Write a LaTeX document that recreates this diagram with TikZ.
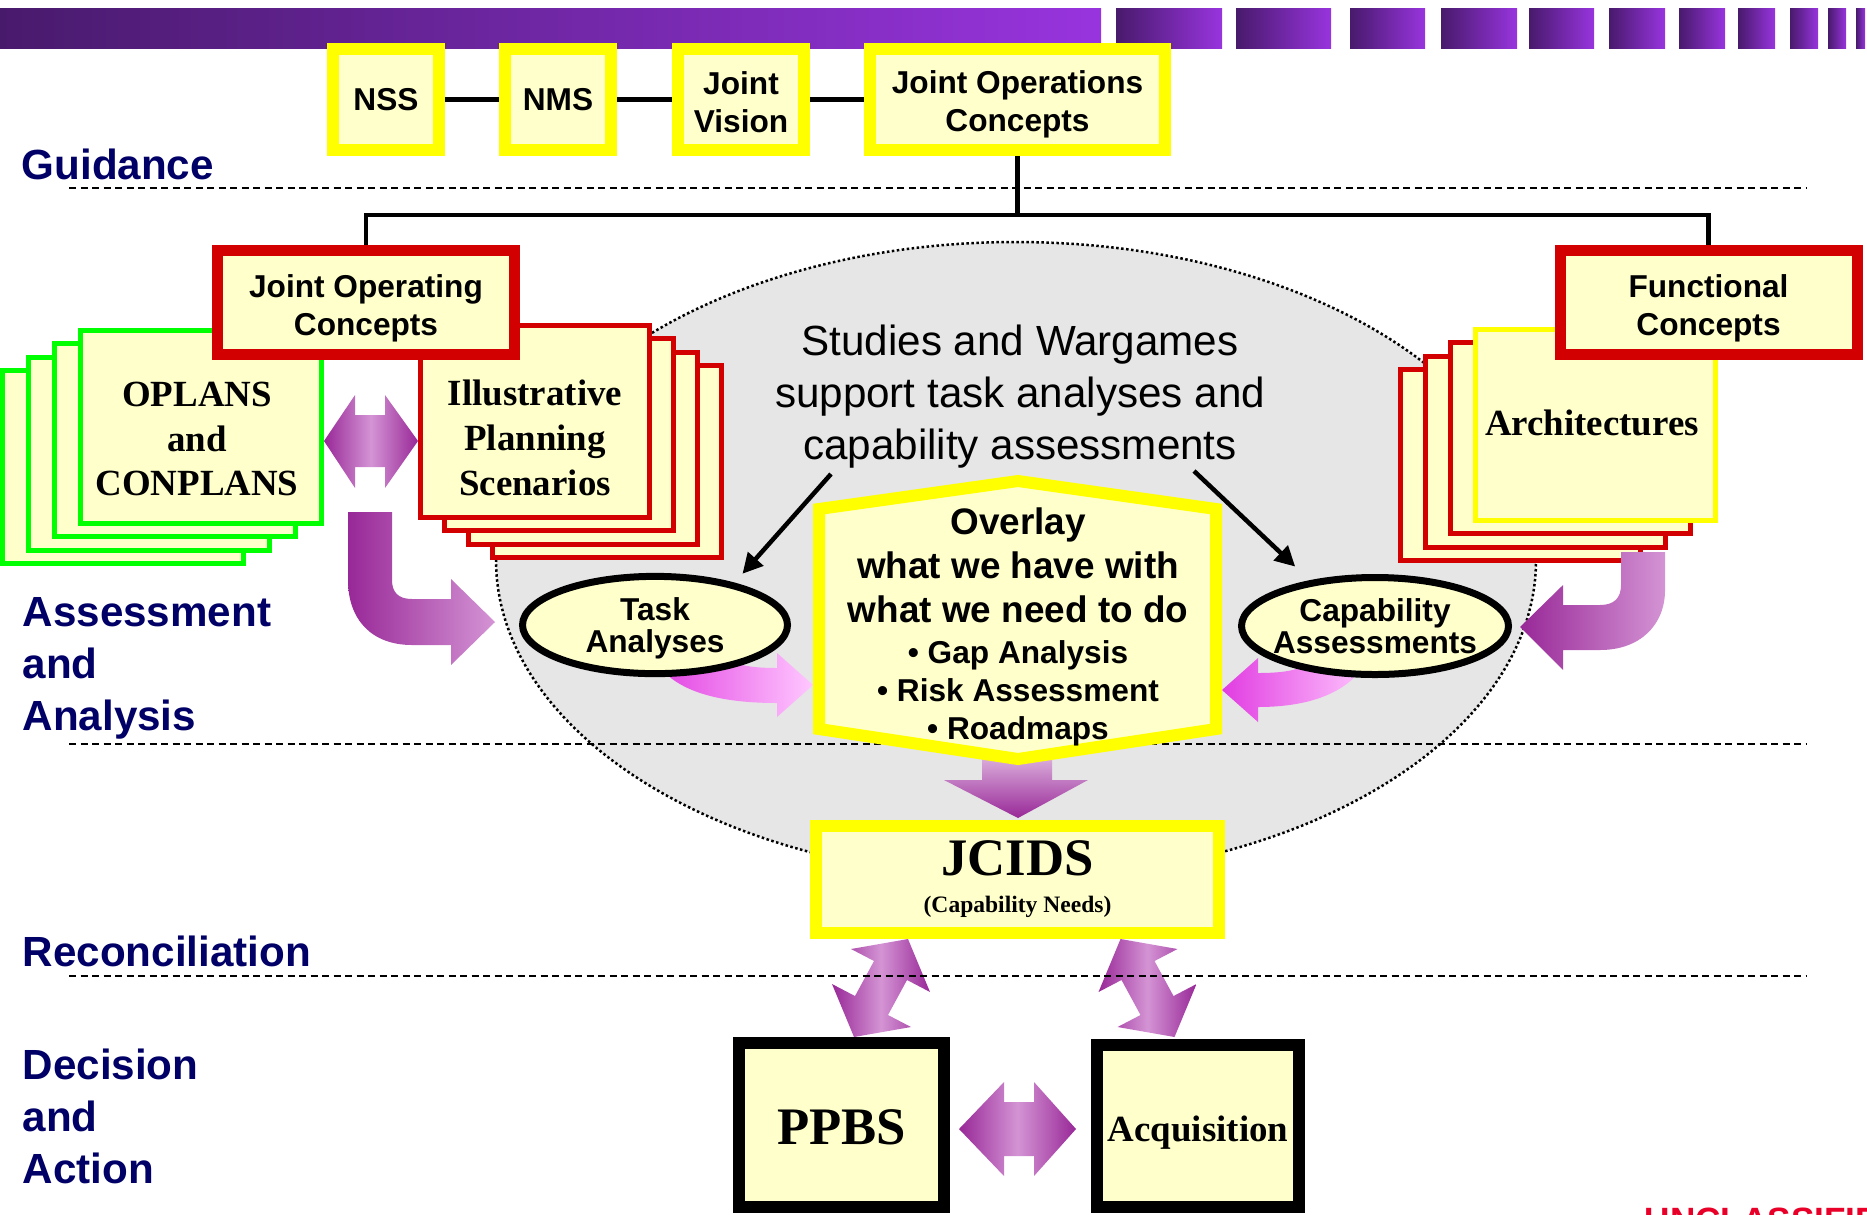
\documentclass[tikz,border=0pt]{standalone}
\usepackage{fontspec}
\setmainfont{Liberation Sans}
\newfontfamily\timesfont{Liberation Serif}
\usetikzlibrary{arrows.meta,shapes.geometric}

\definecolor{boxfill}{RGB}{255,255,204}
\definecolor{boxyellow}{RGB}{255,255,0}
\definecolor{boxred}{RGB}{210,0,0}
\definecolor{boxgreen}{RGB}{0,255,0}
\definecolor{navy}{RGB}{0,0,102}
\definecolor{ovalgray}{RGB}{230,230,230}
\definecolor{pdark}{RGB}{152,40,152}
\definecolor{plight}{RGB}{212,148,212}
\definecolor{pinkdark}{RGB}{225,60,225}
\definecolor{pinklight}{RGB}{255,200,255}
\definecolor{bandark}{RGB}{72,26,108}
\definecolor{banlight}{RGB}{152,52,222}
\definecolor{classred}{RGB}{232,0,40}

\tikzset{
  yellowbox/.style={draw=boxyellow, fill=boxfill, line width=1.2mm, inner sep=0pt,
    align=center, font=\bfseries\fontsize{9}{10.8}\selectfont},
  redbox/.style={yellowbox, draw=boxred, line width=1.1mm,
    minimum width=29.7mm, minimum height=10.4mm},
  blackbox/.style={draw=black, fill=boxfill, line width=1.2mm, inner sep=0pt, text depth=0pt},
  oval/.style={ellipse, draw=black, fill=boxfill, line width=0.7mm, inner sep=0pt,
    inner xsep=-1.5mm, align=center, font=\bfseries\fontsize{9}{9.2}\selectfont},
  layer/.style={fill=boxfill, line width=0.5mm},
  stacktxt/.style={inner sep=0pt, align=center,
    font=\timesfont\bfseries\fontsize{10.5}{12.7}\selectfont},
  lanetxt/.style={anchor=north west, inner sep=0pt, align=left, text=navy,
    font=\bfseries\fontsize{12}{14.8}\selectfont},
  laneline/.style={line width=0.17mm, dash pattern=on 0.7mm off 0.45mm},
  link/.style={line width=0.5mm},
  pointer/.style={line width=0.45mm, -{Triangle[length=2mm,width=2mm]}, shorten >=1.2mm},
  blockarrow/.style={left color=pdark, right color=pdark, middle color=plight},
}

\newcommand{\ovbullet}[1]{{\fontsize{9}{10.8}\selectfont\textbullet\ #1}}
\newcommand{\padtop}[1]{\rule{0pt}{#1}}

\begin{document}
\begin{tikzpicture}[x=0.1mm, y=-0.1mm]
\useasboundingbox (0,0) rectangle (1867,1214);

% Banner
\shade[left color=bandark, right color=banlight] (0,8) rectangle (1101,48);
\foreach \a/\b in {1116/1222, 1236/1331, 1350/1425, 1441/1517, 1529/1594, 1609/1665,
    1679/1725, 1738/1775, 1790/1818, 1828/1846, 1856/1865}
  \shade[left color=bandark, right color=banlight] (\a,8) rectangle (\b,48);

% Studies area
\draw[fill=ovalgray, line width=0.25mm, dash pattern=on 0.25mm off 0.25mm]
  (1016,560) ellipse [x radius=52mm, y radius=31.8mm];

% Lanes
\draw[laneline] (69,188) -- (1806,188);
\draw[laneline] (69,744) -- (1806,744);
\node[lanetxt] (guid) at (21,148) {Guidance};
\node[lanetxt] (assess) at (22,597) {Assessment\\and\\Analysis};
\node[lanetxt] (recon) at (22,935) {Reconciliation};
\node[lanetxt] (decide) at (22,1048) {Decision\\and\\Action};

\node[align=center, inner sep=0pt, font=\fontsize{12}{14.8}\selectfont] (studies) at (1020,397)
  {Studies and Wargames\\support task analyses and\\capability assessments};

% Feeds into overlay
\shade[left color=pinkdark, right color=pinklight] (650,650) .. controls (665,690) and (715,703) ..
  (777,703) -- (777,717) -- (813,685) -- (777,653) -- (777,668)
  .. controls (735,668) and (722,660) .. (718,645) -- cycle;
\shade[left color=pinkdark, right color=pinklight] (1370,655) .. controls (1352,695) and (1305,707) ..
  (1258,707) -- (1258,722) -- (1222,690) -- (1258,658) -- (1258,673)
  .. controls (1292,673) and (1308,668) .. (1315,655) -- cycle;
\shade[top color=plight!40, bottom color=pdark] (982,740) -- (1052,740) -- (1052,780) -- (1088,780)
  -- (1018,818) -- (944,780) -- (982,780) -- cycle;

\node[oval, minimum width=26.5mm, minimum height=9.5mm] (task) at (655,625) {\padtop{8.5pt}Task\\Analyses};
\node[oval, minimum width=26.7mm, minimum height=9.7mm] (capab) at (1375,626) {Capability\\Assessments};
\coordinate (stl) at (831,474);
\coordinate (str) at (1194,471);
\draw[pointer] (stl) -- (task.28);
\draw[pointer, shorten >=2mm] (str) -- (capab.145);

% Overlay
\draw[draw=boxyellow, fill=boxfill, line width=1.2mm] (1018,481) -- (1216,509) -- (1216,729)
  -- (1018,759) -- (819,729) -- (819,509) -- cycle;
\node[align=center, inner sep=0pt, font=\bfseries\fontsize{10.5}{12.5}\selectfont] (overlay) at (1018,627)
  {Overlay\\what we have with\\what we need to do\\[-0.9pt]\ovbullet{Gap Analysis}\\[-1.7pt]
   \ovbullet{Risk Assessment}\\[-1.7pt]\ovbullet{Roadmaps}};

% Stacks
\foreach \i in {3,2,1,0}
  \draw[layer, draw=boxgreen] ({80.5-26*\i},{330.5+13.3*\i}) rectangle ++(241,193);
\node[stacktxt] (oplans) at (197,439) {OPLANS\\and\\CONPLANS};
\foreach \i in {3,2,1,0}
  \draw[layer, draw=boxred] ({420.5+24*\i},{325.5+13.3*\i}) rectangle ++(229,192);
\node[stacktxt] (scen) at (535,438) {Illustrative\\Planning\\Scenarios};
\foreach \i in {3,2,1}
  \draw[layer, draw=boxred] ({1475.5-25*\i},{329.5+13.3*\i}) rectangle ++(240,191);
\draw[layer, draw=boxyellow] (1475.5,329.5) rectangle ++(240,191);
\node[stacktxt] (arch) at (1592,423) {Architectures};

\node[redbox] (joc) at (366,302.5) {\padtop{10pt}Joint Operating\\Concepts};
\node[redbox] (func) at (1708.5,302.5) {\padtop{10pt}Functional\\Concepts};

% Block arrows
\shade[blockarrow] (324,441) -- (355,395) -- (355,415) -- (385,415) -- (385,395) -- (418,441)
  -- (385,488) -- (385,467) -- (355,467) -- (355,488) -- cycle;
\shade[left color=pdark, right color=plight] (348,512) -- (392,512) -- (392,580)
  .. controls (392,592) and (398,599) .. (412,599) -- (451,599) -- (451,579) -- (495,622)
  -- (451,665) -- (451,645) -- (412,645) .. controls (372,645) and (348,620) .. (348,580) -- cycle;
\shade[left color=pdark, right color=plight] (1665,552) -- (1621,552) -- (1621,585)
  .. controls (1621,598) and (1614,605) .. (1600,605) -- (1563,605) -- (1563,585) -- (1520,627)
  -- (1563,670) -- (1563,650) -- (1600,650) .. controls (1640,650) and (1665,625) .. (1665,590) -- cycle;

% Guidance
\node[yellowbox, minimum width=10.6mm, minimum height=10.1mm] (nss) at (386,99.5) {NSS};
\node[yellowbox, minimum width=10.6mm, minimum height=10.1mm] (nms) at (558,99.5) {NMS};
\node[yellowbox, minimum width=12.6mm, minimum height=10.1mm] (jv) at (741,99.5) {\padtop{8pt}Joint\\Vision};
\node[yellowbox, minimum width=29.5mm, minimum height=10.1mm] (jopc) at (1017.5,99.5)
  {\padtop{9.3pt}Joint Operations\\Concepts};
\draw[link] (nss) -- (nms);
\draw[link] (nms) -- (jv);
\draw[link] (jv) -- (jopc);
\coordinate (bus) at (1012,215);
\draw[line width=0.45mm] (jopc.south) -- (jopc.south |- bus);
\draw[line width=0.45mm] (joc.north) -- (joc.north |- bus) -- (func.north |- bus) -- (func.north);

% Reconciliation and decision
\node[yellowbox, minimum width=40.3mm, minimum height=10.7mm,
  font=\timesfont\bfseries\fontsize{6.7}{10.5}\selectfont] (jcids) at (1017.5,879.5)
  {{\fontsize{15}{15}\selectfont JCIDS}\\(Capability Needs)};
\node[blackbox, minimum width=20.5mm, minimum height=16.4mm, text height=11.3pt,
  font=\timesfont\bfseries\fontsize{15}{18}\selectfont] (ppbs) at (841.5,1125) {PPBS};
\node[blackbox, minimum width=20.2mm, minimum height=16.2mm, text height=8.7pt,
  font=\timesfont\bfseries\fontsize{10.5}{12.6}\selectfont] (acq) at (1198,1126) {Acquisition};

\shade[blockarrow] (908,939) -- (930,992) -- (907,980) -- (888,1015) -- (911,1027) -- (854,1037)
  -- (832,984) -- (855,996) -- (874,961) -- (851,949) -- cycle;
\shade[blockarrow] (1120.5,939) -- (1098.5,992) -- (1121.5,980) -- (1140.5,1015) -- (1117.5,1027)
  -- (1174.5,1037) -- (1196.5,984) -- (1173.5,996) -- (1154.5,961) -- (1177.5,949) -- cycle;
\shade[blockarrow] (959,1129) -- (1004,1082) -- (1004,1102) -- (1034,1102) -- (1034,1082)
  -- (1076,1129) -- (1034,1176) -- (1034,1156) -- (1004,1156) -- (1004,1176) -- cycle;

\draw[laneline] (69,976) -- (1806,976);

\node[anchor=north west, inner sep=0pt, text=classred, font=\bfseries\fontsize{10}{12}\selectfont]
  (classif) at (1644,1207) {UNCLASSIFIED};
\end{tikzpicture}
\end{document}
